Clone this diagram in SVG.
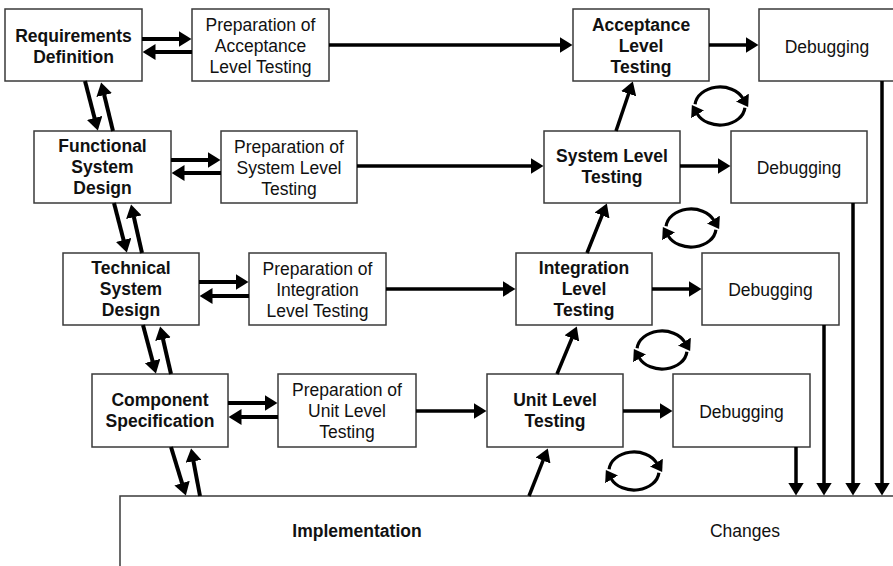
<svg xmlns="http://www.w3.org/2000/svg" width="893" height="566" viewBox="0 0 893 566">
  <defs>
    <style>
      .box { fill: #ffffff; stroke: #3a3a3a; stroke-width: 1.5; }
      .b { font-family: "Liberation Sans", Arial, sans-serif; font-size: 17.5px; font-weight: bold; fill: #111; text-anchor: middle; }
      .n { font-family: "Liberation Sans", Arial, sans-serif; font-size: 17.5px; fill: #111; text-anchor: middle; }
      .arrow { fill: none; stroke: #000; stroke-width: 4; marker-end: url(#head); }
      .thin { fill: none; stroke: #000; stroke-width: 3.5; marker-end: url(#head); }
      .cycle { fill: none; stroke: #000; stroke-width: 3.2; marker-end: url(#chead); }
    </style>
    <marker id="head" markerUnits="userSpaceOnUse" viewBox="0 0 13 16" markerWidth="13" markerHeight="16" refX="0.5" refY="8" orient="auto">
      <path d="M0,0 L13,8 L0,16 z" fill="#000"/>
    </marker>
    <marker id="chead" markerUnits="userSpaceOnUse" viewBox="0 0 11 15" markerWidth="11" markerHeight="15" refX="0.5" refY="7.5" orient="auto">
      <path d="M0,0 L11,7.5 L0,15 z" fill="#000"/>
    </marker>
  </defs>

  <rect width="893" height="566" fill="#ffffff"/>

  <!-- left column: specification steps -->
  <g id="requirements-definition">
    <rect class="box" x="5" y="9" width="137" height="72"/>
    <text class="b" x="73.5" y="42">Requirements</text>
    <text class="b" x="73.5" y="63">Definition</text>
  </g>
  <g id="functional-system-design">
    <rect class="box" x="34" y="131" width="137" height="72"/>
    <text class="b" x="102.5" y="152">Functional</text>
    <text class="b" x="102.5" y="173">System</text>
    <text class="b" x="102.5" y="194">Design</text>
  </g>
  <g id="technical-system-design">
    <rect class="box" x="63" y="253" width="136" height="72"/>
    <text class="b" x="131" y="274">Technical</text>
    <text class="b" x="131" y="295">System</text>
    <text class="b" x="131" y="316">Design</text>
  </g>
  <g id="component-specification">
    <rect class="box" x="92" y="374" width="136" height="73"/>
    <text class="b" x="160" y="405.5">Component</text>
    <text class="b" x="160" y="426.5">Specification</text>
  </g>

  <!-- test preparation steps -->
  <g id="prep-acceptance">
    <rect class="box" x="192" y="9" width="137" height="72"/>
    <text class="n" x="260.5" y="30.5">Preparation of</text>
    <text class="n" x="260.5" y="51.5">Acceptance</text>
    <text class="n" x="260.5" y="72.5">Level Testing</text>
  </g>
  <g id="prep-system">
    <rect class="box" x="221" y="131" width="136" height="72"/>
    <text class="n" x="289" y="152.5">Preparation of</text>
    <text class="n" x="289" y="173.5">System Level</text>
    <text class="n" x="289" y="194.5">Testing</text>
  </g>
  <g id="prep-integration">
    <rect class="box" x="249" y="253" width="137" height="72"/>
    <text class="n" x="317.5" y="274.5">Preparation of</text>
    <text class="n" x="317.5" y="295.5">Integration</text>
    <text class="n" x="317.5" y="316.5">Level Testing</text>
  </g>
  <g id="prep-unit">
    <rect class="box" x="278" y="374" width="138" height="73"/>
    <text class="n" x="347" y="396">Preparation of</text>
    <text class="n" x="347" y="417">Unit Level</text>
    <text class="n" x="347" y="438">Testing</text>
  </g>

  <!-- test execution steps -->
  <g id="acceptance-testing">
    <rect class="box" x="573" y="9" width="136" height="72"/>
    <text class="b" x="641" y="30.5">Acceptance</text>
    <text class="b" x="641" y="51.5">Level</text>
    <text class="b" x="641" y="72.5">Testing</text>
  </g>
  <g id="system-testing">
    <rect class="box" x="544" y="131" width="136" height="72"/>
    <text class="b" x="612" y="162">System Level</text>
    <text class="b" x="612" y="183">Testing</text>
  </g>
  <g id="integration-testing">
    <rect class="box" x="516" y="253" width="136" height="72"/>
    <text class="b" x="584" y="274">Integration</text>
    <text class="b" x="584" y="295">Level</text>
    <text class="b" x="584" y="316">Testing</text>
  </g>
  <g id="unit-testing">
    <rect class="box" x="487" y="374" width="136" height="73"/>
    <text class="b" x="555" y="405.5">Unit Level</text>
    <text class="b" x="555" y="426.5">Testing</text>
  </g>

  <!-- debugging steps -->
  <g id="debugging-1">
    <rect class="box" x="759" y="9" width="140" height="72"/>
    <text class="n" x="827" y="52.5">Debugging</text>
  </g>
  <g id="debugging-2">
    <rect class="box" x="731" y="131" width="136" height="72"/>
    <text class="n" x="799" y="174">Debugging</text>
  </g>
  <g id="debugging-3">
    <rect class="box" x="702" y="253" width="137" height="72"/>
    <text class="n" x="770.5" y="296">Debugging</text>
  </g>
  <g id="debugging-4">
    <rect class="box" x="673" y="374" width="137" height="73"/>
    <text class="n" x="741.5" y="418">Debugging</text>
  </g>

  <!-- bottom band -->
  <g id="implementation">
    <rect class="box" x="120" y="496" width="800" height="90"/>
    <text class="b" x="357" y="537">Implementation</text>
    <text class="n" x="745" y="537">Changes</text>
  </g>

  <g id="connectors">
    <!-- paired arrows between specification and preparation -->
    <line class="arrow" x1="142" y1="39" x2="179" y2="39"/>
    <line class="arrow" x1="192" y1="52" x2="155" y2="52"/>
    <line class="arrow" x1="171" y1="160" x2="208" y2="160"/>
    <line class="arrow" x1="221" y1="173" x2="184" y2="173"/>
    <line class="arrow" x1="199" y1="282" x2="236" y2="282"/>
    <line class="arrow" x1="249" y1="296" x2="212" y2="296"/>
    <line class="arrow" x1="228" y1="403" x2="265" y2="403"/>
    <line class="arrow" x1="278" y1="417" x2="241" y2="417"/>

    <!-- paired diagonal arrows down the left side -->
    <line class="arrow" x1="85" y1="81" x2="94.7" y2="118.4"/>
    <line class="arrow" x1="113" y1="131" x2="104.1" y2="94.6"/>
    <line class="arrow" x1="114" y1="203" x2="123.7" y2="240.4"/>
    <line class="arrow" x1="142" y1="253" x2="133.8" y2="216.7"/>
    <line class="arrow" x1="143" y1="325" x2="152.7" y2="361.4"/>
    <line class="arrow" x1="171" y1="374" x2="162.9" y2="338.7"/>
    <line class="arrow" x1="171" y1="447" x2="182.2" y2="483.6"/>
    <line class="arrow" x1="200" y1="496" x2="193.4" y2="460.8"/>

    <!-- preparation to testing -->
    <line class="thin" x1="329" y1="45" x2="560" y2="45"/>
    <line class="thin" x1="357" y1="166" x2="531" y2="166"/>
    <line class="thin" x1="386" y1="289" x2="503" y2="289"/>
    <line class="thin" x1="416" y1="411" x2="474" y2="411"/>

    <!-- testing to debugging -->
    <line class="thin" x1="709" y1="45" x2="746" y2="45"/>
    <line class="thin" x1="680" y1="166" x2="718" y2="166"/>
    <line class="thin" x1="652" y1="289" x2="689" y2="289"/>
    <line class="thin" x1="623" y1="411" x2="660" y2="411"/>

    <!-- testing levels upward -->
    <line class="thin" x1="529" y1="496" x2="543.2" y2="460.1"/>
    <line class="thin" x1="557" y1="374" x2="572" y2="338"/>
    <line class="thin" x1="587" y1="253" x2="602.2" y2="215"/>
    <line class="thin" x1="616" y1="131" x2="628.8" y2="93.3"/>

    <!-- debugging down to changes -->
    <line class="thin" x1="796" y1="447" x2="796" y2="483"/>
    <line class="thin" x1="824" y1="325" x2="824" y2="483"/>
    <line class="thin" x1="853" y1="203" x2="853" y2="483"/>
    <line class="thin" x1="882" y1="81" x2="882" y2="483"/>

    <!-- iteration cycles -->
    <g transform="translate(720,106)">
      <path class="cycle" d="M-24.9,-1.7 A25,19 0 0 1 22.7,-8"/>
      <path class="cycle" d="M24.9,1.7 A25,19 0 0 1 -22.7,8"/>
    </g>
    <g transform="translate(691,228)">
      <path class="cycle" d="M-24.9,-1.7 A25,19 0 0 1 22.7,-8"/>
      <path class="cycle" d="M24.9,1.7 A25,19 0 0 1 -22.7,8"/>
    </g>
    <g transform="translate(662,350)">
      <path class="cycle" d="M-24.9,-1.7 A25,19 0 0 1 22.7,-8"/>
      <path class="cycle" d="M24.9,1.7 A25,19 0 0 1 -22.7,8"/>
    </g>
    <g transform="translate(634,471)">
      <path class="cycle" d="M-24.9,-1.7 A25,19 0 0 1 22.7,-8"/>
      <path class="cycle" d="M24.9,1.7 A25,19 0 0 1 -22.7,8"/>
    </g>
  </g>
</svg>
